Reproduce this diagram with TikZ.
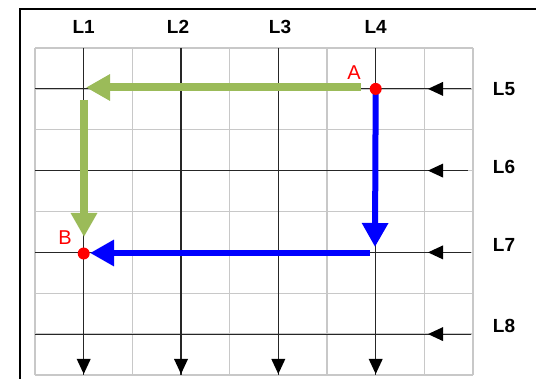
\documentclass[tikz,border=0pt]{standalone}
\usepackage{fontspec}
\setmainfont{Liberation Sans}
\usetikzlibrary{arrows.meta,calc}
\definecolor{ggreen}{HTML}{9BBB59}
\definecolor{gblue}{HTML}{0000FF}
\definecolor{gridgray}{HTML}{C8C8C8}
\tikzset{
  gridline/.style={draw=gridgray, line width=1.4pt},
  axisline/.style={draw=black!85, line width=1.1pt},
  axislabel/.style={font=\fontsize{19}{19}\selectfont\bfseries, inner sep=0pt},
  ptlabel/.style={font=\fontsize{20}{20}\selectfont, text=red, inner sep=0pt},
  dot/.style={circle, fill=red, inner sep=0pt, minimum size=12pt},
  bigtip/.style={-{Triangle[width=25pt,length=24pt]}},
  greenarrow/.style={draw=ggreen, line width=8pt, bigtip},
  bluearrow/.style={draw=gblue, line width=6pt, bigtip},
  smalltip/.style={fill=black}
}
\begin{document}
\begin{tikzpicture}[x=1pt,y=-1pt]
\useasboundingbox (0,0) rectangle (536,379);
% frame
\draw[line width=2pt] (20,379) -- (20,9) -- (537,9);
% light grid
\foreach \i in {0,...,9} \draw[gridline] ({35+48.667*\i},48) -- ({35+48.667*\i},375);
\foreach \j in {0,...,8} \draw[gridline] (35,{48+40.875*\j}) -- (473,{48+40.875*\j});
% column coordinates
\coordinate (c1t) at (83.7,48);  \coordinate (c1b) at (83.7,375);
\coordinate (c2t) at (181,48);   \coordinate (c2b) at (181,375);
\coordinate (c3t) at (278.3,48); \coordinate (c3b) at (278.3,375);
\coordinate (c4t) at (375.7,48); \coordinate (c4b) at (375.7,375);
% row coordinates
\coordinate (r5l) at (35,88.9);   \coordinate (r5r) at (471,88.9);
\coordinate (r6l) at (35,170.6);  \coordinate (r6r) at (468,170.6);
\coordinate (r7l) at (35,252.4);  \coordinate (r7r) at (471,252.4);
\coordinate (r8l) at (35,334.1);  \coordinate (r8r) at (471,334.1);
% dark lines
\foreach \c in {1,2,3,4} {
  \draw[axisline] (c\c t) -- (c\c b);
  \fill[smalltip] ($(c\c b)+(0,-1)$) -- ++(-7,-15) -- ++(14,0) -- cycle;
}
\foreach \r in {5,6,7,8} {
  \draw[axisline] (r\r l) -- (r\r r);
  \fill[smalltip] ($(r\r l)+(393,0)$) -- ++(15,-7) -- ++(0,14) -- cycle;
}
% labels
\node[axislabel] (L1) at (83.7,27) {L1};
\node[axislabel] (L2) at (178,27) {L2};
\node[axislabel] (L3) at (280,27) {L3};
\node[axislabel] (L4) at (375.7,27) {L4};
\node[axislabel] (L5) at (504,89) {L5};
\node[axislabel] (L6) at (504,167) {L6};
\node[axislabel] (L7) at (504,245) {L7};
\node[axislabel] (L8) at (504,326) {L8};
% paths
\coordinate (Apos) at (375.7,88.9);
\coordinate (g1s) at (361,87.5);
\coordinate (g1e) at (86,87.5);
\coordinate (g2s) at (84,100);
\coordinate (g2e) at (84,237);
\draw[greenarrow] (g1s) -- (g1e);
\draw[greenarrow] (g2s) -- (g2e);
\coordinate (b1e) at (375,247);
\coordinate (b2s) at (370,253);
\coordinate (b2e) at (90,253);
\draw[bluearrow] (Apos) -- (b1e);
\draw[bluearrow] (b2s) -- (b2e);
% points
\node[dot] (A) at (Apos) {};
\node[dot] (B) at (83.7,253.5) {};
\node[ptlabel] (Alab) at (354,73) {A};
\node[ptlabel] (Blab) at (65,238) {B};
\end{tikzpicture}
\end{document}
